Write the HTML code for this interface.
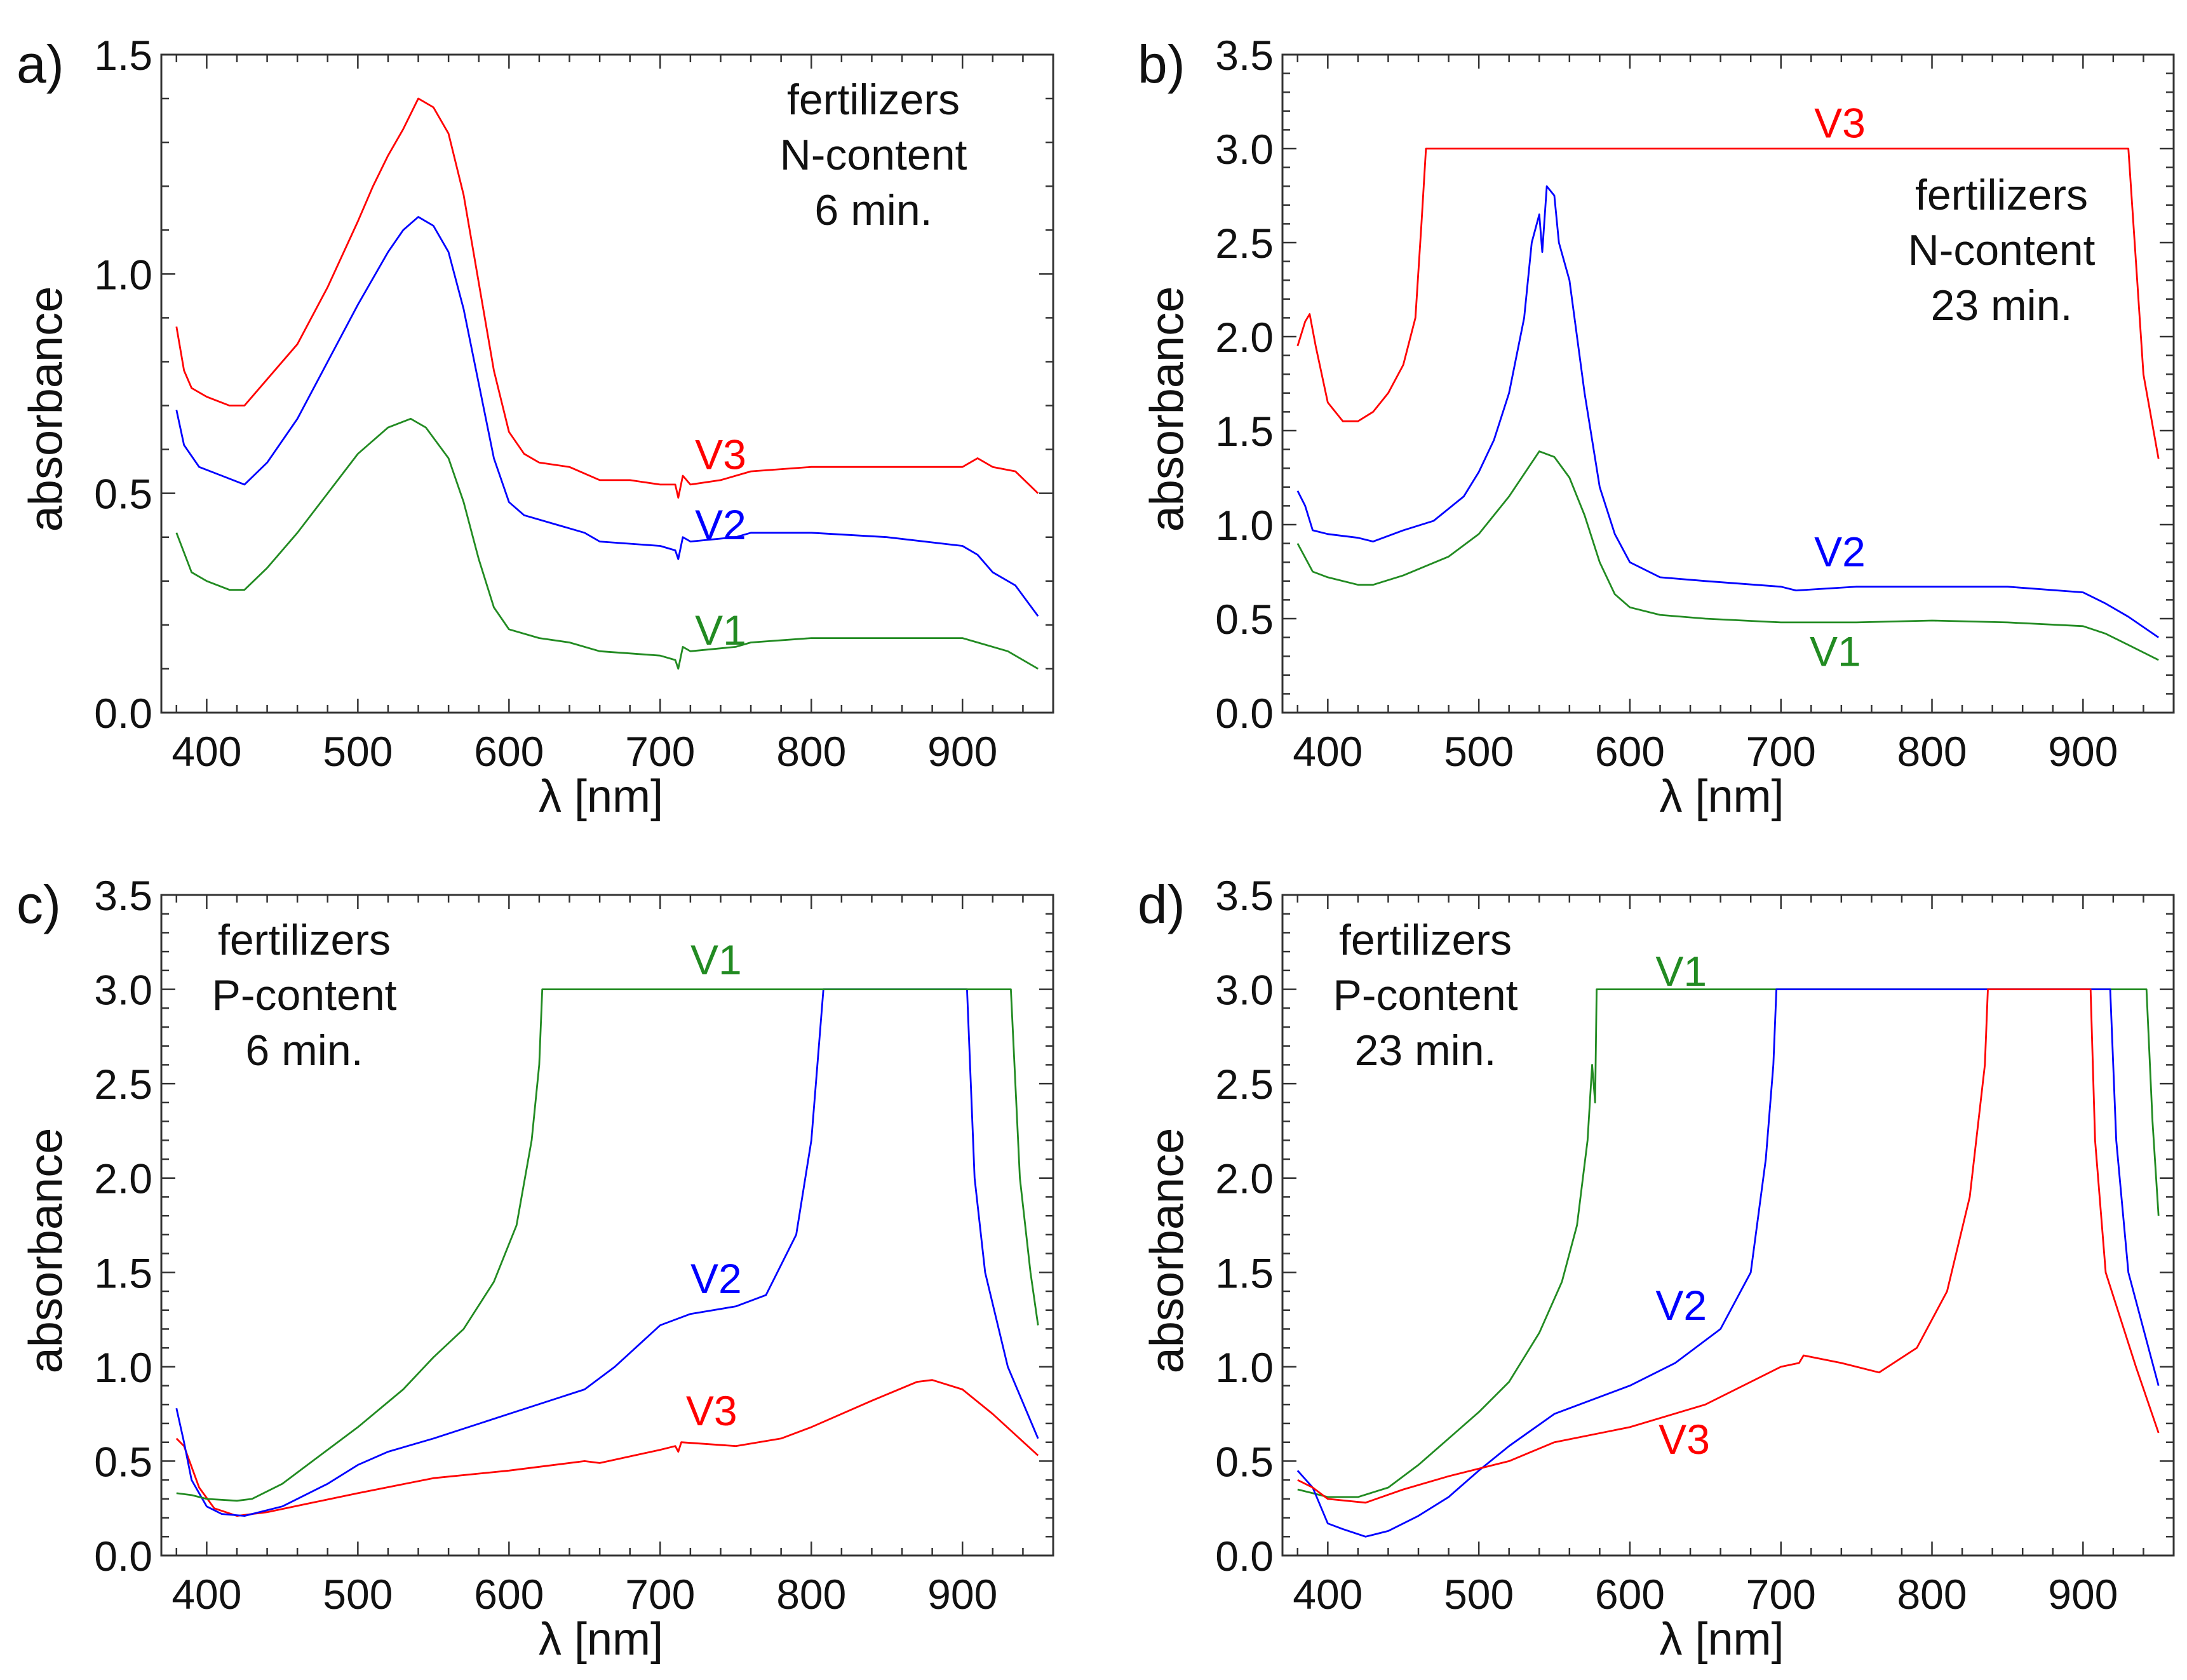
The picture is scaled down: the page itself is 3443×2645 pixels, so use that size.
<!DOCTYPE html>
<html><head><meta charset="utf-8">
<style>
html,body{margin:0;padding:0;background:#fff;}
svg{display:block;font-family:"Liberation Sans",Arial,sans-serif;}
</style></head>
<body>
<svg id="fig" width="3443" height="2645" viewBox="0 0 3443 2645" xmlns="http://www.w3.org/2000/svg"></svg>
<script>
// ---- data (wavelength nm, absorbance) ----
const aV3x=[380,385,390,400,415,425,440,460,480,500,510,520,530,540,550,560,570,580,590,600,610,620,640,660,680,700,710,712,715,720,740,760,800,850,900,910,920,935,950];
const aV3y=[0.88,0.78,0.74,0.72,0.70,0.70,0.76,0.84,0.97,1.12,1.20,1.27,1.33,1.40,1.38,1.32,1.18,0.98,0.78,0.64,0.59,0.57,0.56,0.53,0.53,0.52,0.52,0.49,0.54,0.52,0.53,0.55,0.56,0.56,0.56,0.58,0.56,0.55,0.50];
const aV2x=[380,385,395,410,425,440,460,480,500,520,530,540,550,560,570,580,590,600,610,630,650,660,700,710,712,715,720,750,760,800,850,900,910,920,935,950];
const aV2y=[0.69,0.61,0.56,0.54,0.52,0.57,0.67,0.80,0.93,1.05,1.10,1.13,1.11,1.05,0.92,0.75,0.58,0.48,0.45,0.43,0.41,0.39,0.38,0.37,0.35,0.40,0.39,0.40,0.41,0.41,0.40,0.38,0.36,0.32,0.29,0.22];
const aV1x=[380,390,400,415,425,440,460,480,500,520,535,545,560,570,580,590,600,620,640,660,700,710,712,715,720,750,760,800,850,900,910,930,950];
const aV1y=[0.41,0.32,0.30,0.28,0.28,0.33,0.41,0.50,0.59,0.65,0.67,0.65,0.58,0.48,0.35,0.24,0.19,0.17,0.16,0.14,0.13,0.12,0.10,0.15,0.14,0.15,0.16,0.17,0.17,0.17,0.16,0.14,0.10];

const bV3x=[380,385,388,392,400,410,420,430,440,450,458,462,465,930,935,940,950];
const bV3y=[1.95,2.08,2.12,1.95,1.65,1.55,1.55,1.60,1.70,1.85,2.10,2.60,3.00,3.00,2.40,1.80,1.35];
const bV2x=[380,385,390,400,420,430,450,470,490,500,510,520,530,535,540,542,545,550,553,560,570,580,590,600,620,650,700,710,750,800,850,900,915,930,950];
const bV2y=[1.18,1.10,0.97,0.95,0.93,0.91,0.97,1.02,1.15,1.28,1.45,1.70,2.10,2.50,2.65,2.45,2.80,2.75,2.50,2.30,1.70,1.20,0.95,0.80,0.72,0.70,0.67,0.65,0.67,0.67,0.67,0.64,0.58,0.51,0.40];
const bV1x=[380,390,400,420,430,450,480,500,520,540,550,560,570,580,590,600,620,650,700,750,800,850,900,915,930,950];
const bV1y=[0.90,0.75,0.72,0.68,0.68,0.73,0.83,0.95,1.15,1.39,1.36,1.25,1.05,0.80,0.63,0.56,0.52,0.50,0.48,0.48,0.49,0.48,0.46,0.42,0.36,0.28];

const cV1x=[380,390,400,420,430,450,470,500,530,550,570,590,605,615,620,622,932,938,945,950];
const cV1y=[0.33,0.32,0.30,0.29,0.30,0.38,0.50,0.68,0.88,1.05,1.20,1.45,1.75,2.20,2.60,3.00,3.00,2.00,1.50,1.22];
const cV2x=[380,385,390,400,410,425,450,480,500,520,550,600,650,670,700,720,750,770,790,800,805,808,903,908,915,930,950];
const cV2y=[0.78,0.60,0.40,0.26,0.22,0.21,0.26,0.38,0.48,0.55,0.62,0.75,0.88,1.00,1.22,1.28,1.32,1.38,1.70,2.20,2.70,3.00,3.00,2.00,1.50,1.00,0.62];
const cV3x=[380,385,395,405,420,440,470,500,550,600,650,660,700,710,712,714,750,780,800,840,870,880,900,920,950];
const cV3y=[0.62,0.58,0.36,0.25,0.21,0.23,0.28,0.33,0.41,0.45,0.50,0.49,0.56,0.58,0.55,0.60,0.58,0.62,0.68,0.82,0.92,0.93,0.88,0.75,0.53];

const dV1x=[380,390,400,420,440,460,480,500,520,540,555,565,572,575,577,578,942,946,950];
const dV1y=[0.35,0.33,0.31,0.31,0.36,0.48,0.62,0.76,0.92,1.18,1.45,1.75,2.20,2.60,2.40,3.00,3.00,2.30,1.80];
const dV2x=[380,390,400,410,425,440,460,480,500,520,550,600,630,660,680,690,695,697,918,922,930,950];
const dV2y=[0.45,0.36,0.17,0.14,0.10,0.13,0.21,0.31,0.45,0.58,0.75,0.90,1.02,1.20,1.50,2.10,2.60,3.00,3.00,2.20,1.50,0.90];
const dV3x=[380,390,400,425,450,480,520,550,600,650,680,700,712,715,740,765,790,810,825,835,837,905,908,915,935,950];
const dV3y=[0.40,0.36,0.30,0.28,0.35,0.42,0.50,0.60,0.68,0.80,0.92,1.00,1.02,1.06,1.02,0.97,1.10,1.40,1.90,2.60,3.00,3.00,2.20,1.50,1.00,0.65];

const xTicks=[400,500,600,700,800,900];
const aYTicks=["0.0","0.5","1.0","1.5"];
const bYTicks=["0.0","0.5","1.0","1.5","2.0","2.5","3.0","3.5"];

// ---- drawing ----
const NS="http://www.w3.org/2000/svg";
const fig=document.getElementById('fig');
function mk(tag,attrs,parent){const e=document.createElementNS(NS,tag);for(const k in attrs)e.setAttribute(k,attrs[k]);(parent||fig).appendChild(e);return e;}
const C={V1:"#228B22",V2:"#0000ff",V3:"#ff0000"};

const panels=[
 {id:"a",L:254,T:86,W:1404,H:1036,ymax:1.5,yt:aYTicks,
  series:[["V1",aV1x,aV1y],["V2",aV2x,aV2y],["V3",aV3x,aV3y]],
  labels:[["V3",740,0.59],["V2",740,0.43],["V1",740,0.19]],
  ann:[1375,0,["fertilizers","N-content","6 min."]]},
 {id:"b",L:2019,T:86,W:1403,H:1036,ymax:3.5,yt:bYTicks,
  series:[["V1",bV1x,bV1y],["V2",bV2x,bV2y],["V3",bV3x,bV3y]],
  labels:[["V3",739,3.14],["V2",739,0.86],["V1",736,0.33]],
  ann:[3151,150,["fertilizers","N-content","23 min."]]},
 {id:"c",L:254,T:1409,W:1404,H:1040,ymax:3.5,yt:bYTicks,
  series:[["V3",cV3x,cV3y],["V2",cV2x,cV2y],["V1",cV1x,cV1y]],
  labels:[["V1",737,3.16],["V2",737,1.47],["V3",734,0.77]],
  ann:[479,0,["fertilizers","P-content","6 min."]]},
 {id:"d",L:2019,T:1409,W:1403,H:1040,ymax:3.5,yt:bYTicks,
  series:[["V1",dV1x,dV1y],["V2",dV2x,dV2y],["V3",dV3x,dV3y]],
  labels:[["V1",634,3.1],["V2",634,1.33],["V3",636,0.62]],
  ann:[2244,0,["fertilizers","P-content","23 min."]]}
];

panels.forEach(p=>{
  const g=mk('g',{});
  
  
  const X=v=>p.L+(v-370)/(960-370)*p.W;
  const Y=v=>p.T+p.H-(v/p.ymax)*p.H;
  p.series.forEach(s=>{
    const d=s[1].map((x,i)=>(i?'L':'M')+X(x).toFixed(1)+' '+Y(s[2][i]).toFixed(1)).join(' ');
    const path=mk('path',{d:d,fill:'none',stroke:C[s[0]],'stroke-width':2.8,'stroke-linejoin':'round'},g);
    
    
  });
  const fr=mk('rect',{x:p.L,y:p.T,width:p.W,height:p.H,fill:'none',stroke:'#333','stroke-width':3},g);
  
  
  for(let v=380;v<=960;v+=20){
    const major=v%100===0, len=major?22:12, x=X(v);
    mk('line',{x1:x,y1:p.T+p.H,x2:x,y2:p.T+p.H-len,stroke:'#333','stroke-width':2.5},g);
    mk('line',{x1:x,y1:p.T,x2:x,y2:p.T+len,stroke:'#333','stroke-width':2.5},g);
  }
  xTicks.forEach(v=>{
    const t=mk('text',{x:X(v),y:p.T+p.H+84,'font-size':66,'text-anchor':'middle',fill:'#111'},g);
    t.textContent=v;
    
    
  });
  for(let k=0;k<=Math.round(p.ymax*10);k++){
    const v=k/10, major=k%5===0, len=major?22:12, y=Y(v);
    mk('line',{x1:p.L,y1:y,x2:p.L+len,y2:y,stroke:'#333','stroke-width':2.5},g);
    mk('line',{x1:p.L+p.W,y1:y,x2:p.L+p.W-len,y2:y,stroke:'#333','stroke-width':2.5},g);
  }
  p.yt.forEach(s=>{
    const t=mk('text',{x:p.L-14,y:Y(parseFloat(s))+24,'font-size':66,'text-anchor':'end',fill:'#111'},g);
    t.textContent=s;
    
    
  });
  const xt=mk('text',{x:p.L+p.W/2-10,y:p.T+p.H+156,'font-size':72,'text-anchor':'middle',fill:'#111'},g);
  xt.textContent='λ [nm]';
  
  
  const cy=p.T+p.H/2+40;
  const yx=p.L-182;
  const yt=mk('text',{x:yx,y:cy,'font-size':74,'text-anchor':'middle',fill:'#111',transform:'rotate(-90 '+yx+' '+cy+')','dominant-baseline':'central'},g);
  yt.textContent='absorbance';
  
  
  const pl=mk('text',{x:p.L-228,y:p.T+44,'font-size':84,fill:'#111'},g);
  pl.textContent=p.id+')';
  
  
  p.labels.forEach(l=>{
    const t=mk('text',{x:X(l[1]),y:Y(l[2])+24,'font-size':66,'text-anchor':'middle',fill:C[l[0]]},g);
    t.textContent=l[0];
    
    
  });
  p.ann[2].forEach((s,i)=>{
    const t=mk('text',{x:p.ann[0],y:p.T+p.ann[1]+94+i*87,'font-size':68,'text-anchor':'middle',fill:'#111'},g);
    t.textContent=s;
    
    
  });
});
</script>
</body></html>
